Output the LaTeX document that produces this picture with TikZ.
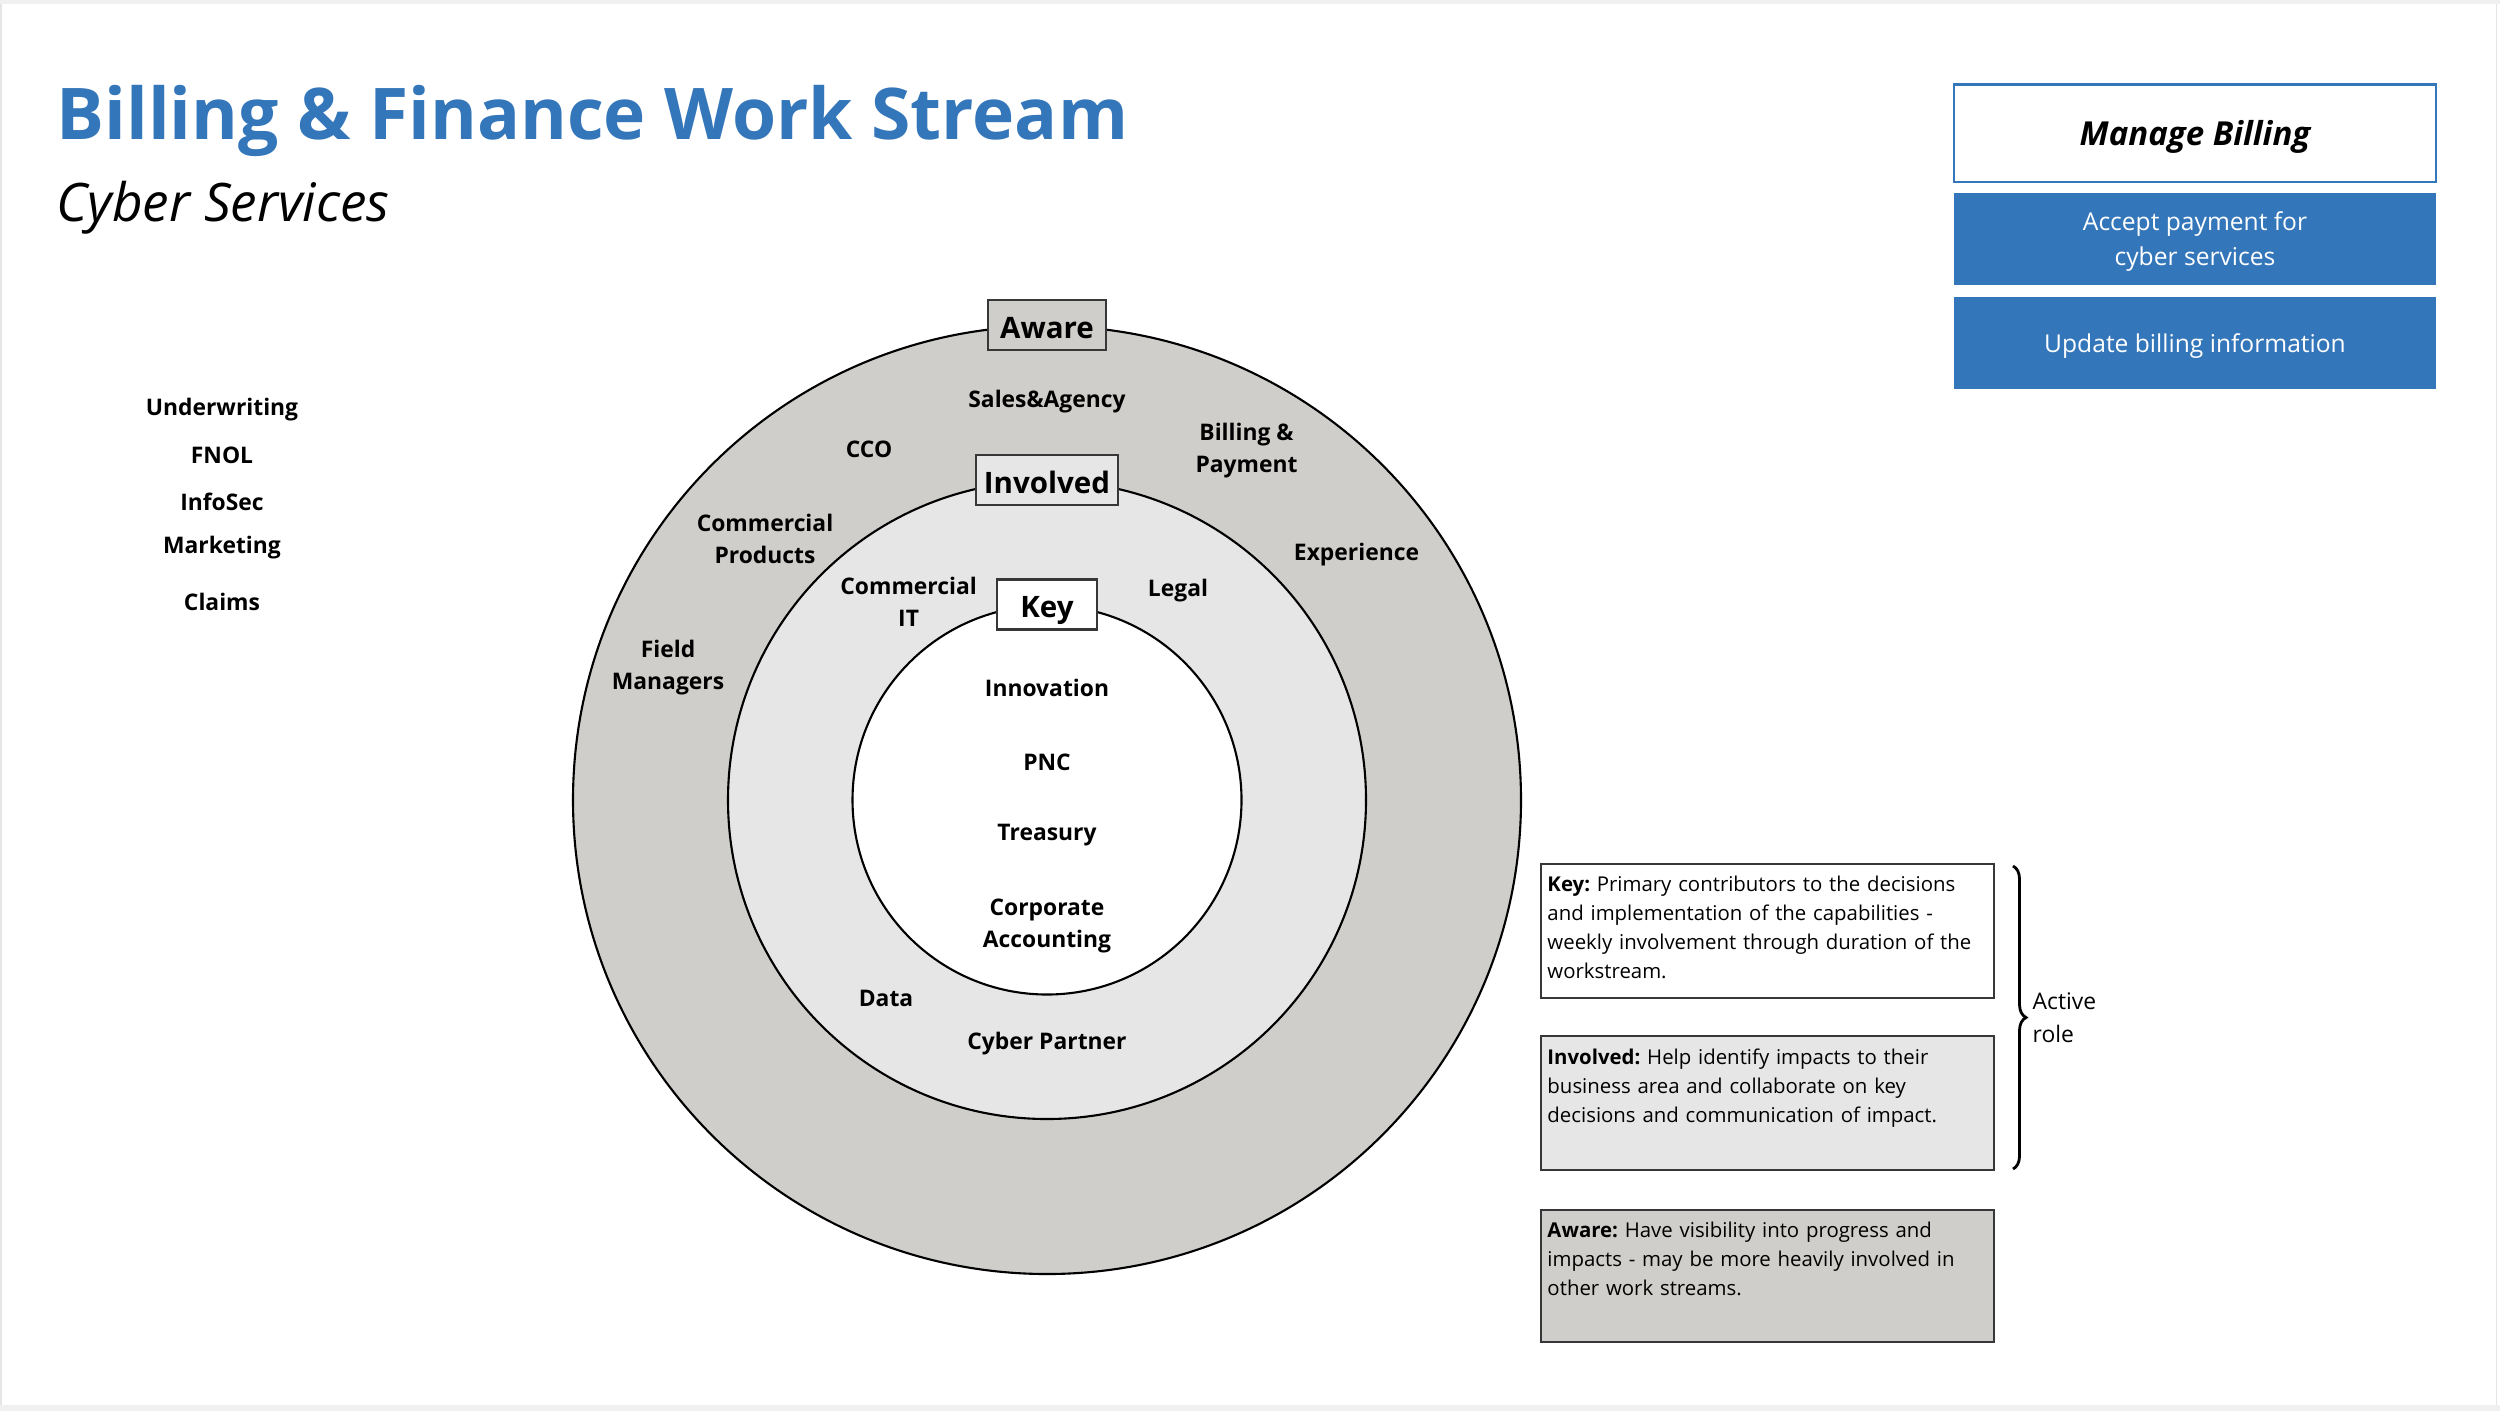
\documentclass[tikz,border=0pt]{standalone}
\usepackage{fontspec}
\setmainfont{Open Sans}
\usetikzlibrary{positioning,decorations.pathreplacing}
\definecolor{streamblue}{RGB}{52,118,186}
\definecolor{awaregray}{RGB}{208,206,202}
\definecolor{involvedgray}{RGB}{230,230,230}
\definecolor{edgegray}{RGB}{55,55,55}
\begin{document}
\begin{tikzpicture}[
  ring/.style={circle, draw=black, line width=0.6pt, inner sep=0pt},
  tag/.style={draw=edgegray, line width=0.7pt, inner sep=0pt, minimum height=0.5cm, text height=7.7pt, text depth=0pt, font=\fontsize{8.4}{10}\selectfont\bfseries},
  lbl/.style={align=center, inner sep=0pt, yshift=-0.03cm, font=\fontsize{6.5}{9.1}\selectfont\bfseries},
  capbox/.style={minimum width=4.82cm, inner sep=0pt, align=center, text depth=0pt, text=white, fill=streamblue, font=\fontsize{7}{10}\selectfont},
  legbox/.style={draw=edgegray, line width=0.7pt, minimum width=4.53cm, minimum height=1.33cm, inner sep=0pt},
  legtext/.style={anchor=north west, text width=4.42cm, align=left, inner sep=0pt, font=\fontsize{5.8}{8.25}\selectfont\frenchspacing}
]
\useasboundingbox (0,0) rectangle (25,-14.11);
\fill[gray!12] (0,0) rectangle (25,-0.04);
\fill[gray!12] (0,-14.05) rectangle (25,-14.11);
\draw[gray!20, line width=0.3pt] (0.01,-0.04) -- (0.01,-14.05);
\draw[gray!20, line width=0.3pt] (24.96,-0.04) -- (24.96,-14.05);

\node[anchor=west, inner sep=0pt, text=streamblue, font=\fontsize{20.3}{24}\selectfont\bfseries] (title) at (0.56,-1.21) {Billing \& Finance Work Stream};
\node[anchor=west, inner sep=0pt, font=\fontsize{15.1}{18}\selectfont\itshape] (subtitle) at (0.56,-2.08) {Cyber Services};

\node[capbox, minimum height=0.975cm, fill=white, draw=streamblue, line width=0.8pt, text=black, font=\fontsize{9.4}{11}\selectfont\bfseries\itshape] (manage) at (21.95,-1.3325) {Manage Billing};
\node[capbox, minimum height=0.92cm] (accept) at (21.95,-2.39) {Accept payment for\\cyber services};
\node[capbox, minimum height=0.925cm] (update) at (21.95,-3.4275) {Update billing information};

\node[lbl] (underwriting) at (2.22,-4.065) {Underwriting};
\node[lbl] (fnol) at (2.22,-4.527) {FNOL};
\node[lbl] (infosec) at (2.22,-4.99) {InfoSec};
\node[lbl] (marketing) at (2.22,-5.45) {Marketing};
\node[lbl] (claims) at (2.22,-5.99) {Claims};

\coordinate (hub) at (10.47,-8.0);
\node[ring, fill=awaregray, minimum size=9.48cm] (awarering) at (hub) {};
\node[ring, fill=involvedgray, minimum size=6.38cm] (involvedring) at (hub) {};
\node[ring, fill=white, minimum size=3.89cm] (keyring) at (hub) {};

\node[tag, fill=awaregray, minimum width=1.18cm] (awaretag) at (awarering.north) {Aware};
\node[tag, fill=involvedgray, minimum width=1.42cm] (involvedtag) at (involvedring.north) {Involved};
\node[tag, fill=white, minimum width=1.0cm] (keytag) at (keyring.north) {Key};

\node[lbl] (sales) at (10.47,-3.985) {Sales\&Agency};
\node[lbl] (cco) at (8.69,-4.46) {CCO};
\node[lbl] (billpay) at (12.465,-4.48) {Billing \&\\Payment};
\node[lbl] (comprod) at (7.65,-5.355) {Commercial\\Products};
\node[lbl] (experience) at (13.565,-5.515) {Experience};
\node[lbl] (field) at (6.68,-6.65) {Field\\Managers};
\node[lbl] (comit) at (9.086,-5.99) {Commercial\\IT};
\node[lbl] (legal) at (11.78,-5.88) {Legal};
\node[lbl] (innovation) at (10.47,-6.85) {Innovation};
\node[lbl] (pnc) at (10.47,-7.59) {PNC};
\node[lbl] (treasury) at (10.47,-8.32) {Treasury};
\node[lbl] (corpacc) at (10.47,-9.23) {Corporate\\Accounting};
\node[lbl] (data) at (8.86,-9.95) {Data};
\node[lbl] (cyberp) at (10.47,-10.41) {Cyber Partner};

\node[legbox, fill=white, minimum height=1.34cm] (keybox) at (17.675,-9.31) {};
\node[legbox, fill=involvedgray, minimum height=1.34cm] (involvedbox) at (17.675,-11.03) {};
\node[legbox, fill=awaregray, minimum height=1.32cm] (awarebox) at (17.675,-12.76) {};
\node[legtext] (keytext) at ([xshift=0.07cm, yshift=-0.13cm]keybox.north west) {\textbf{Key:} Primary contributors to the decisions\\and implementation of the capabilities -\\weekly involvement through duration of the\\workstream.};
\node[legtext] (involvedtext) at ([xshift=0.07cm, yshift=-0.13cm]involvedbox.north west) {\textbf{Involved:} Help identify impacts to their\\business area and collaborate on key\\decisions and communication of impact.};
\node[legtext] (awaretext) at ([xshift=0.07cm, yshift=-0.13cm]awarebox.north west) {\textbf{Aware:} Have visibility into progress and\\impacts - may be more heavily involved in\\other work streams.};

\coordinate (bracetop) at (20.13,-8.66);
\coordinate (bracebot) at (20.13,-11.69);
\draw[line width=0.8pt, decorate, decoration={brace, amplitude=0.13cm}] (bracetop) -- (bracebot);
\node[anchor=west, align=left, inner sep=0pt, font=\fontsize{6.5}{9.5}\selectfont] (active) at (20.32,-10.18) {Active\\role};
\end{tikzpicture}
\end{document}
